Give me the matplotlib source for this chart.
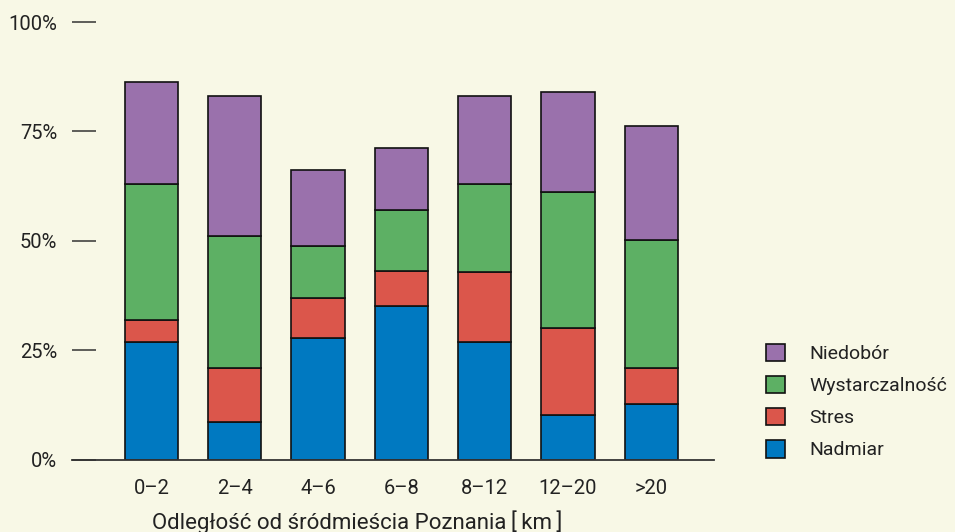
import numpy as np
import matplotlib.pyplot as plt
from matplotlib.patches import Patch

plt.rcParams['font.family'] = ['Roboto', 'DejaVu Sans']

categories = ["0–2", "2–4", "4–6", "6–8", "8–12", "12–20", ">20"]
nadmiar = [26.9, 8.7, 27.9, 35.2, 27.0, 10.1, 12.8]
stres = [5.0, 12.3, 9.1, 7.8, 15.9, 20.1, 8.2]
wystarczalnosc = [31.1, 30.2, 11.9, 14.0, 20.2, 31.0, 29.3]
niedobor = [23.4, 32.0, 17.4, 14.3, 20.1, 22.9, 26.0]

series = [("Nadmiar", nadmiar, "#0079C1"),
          ("Stres", stres, "#DB564B"),
          ("Wystarczalność", wystarczalnosc, "#5DB064"),
          ("Niedobór", niedobor, "#9A71AC")]

bg = "#F8F8E6"
W, H = 955, 532
fig = plt.figure(figsize=(W / 100, H / 100), dpi=100, facecolor=bg)
ax = fig.add_axes([72 / W, (H - 459.7) / H, 642 / W, 437.7 / H], facecolor=bg)

x = np.arange(len(categories))
bottom = np.zeros(len(categories))
handles = []
for name, vals, col in series:
    ax.bar(x, vals, width=0.64, bottom=bottom, color=col,
           edgecolor="#111111", linewidth=1.2, zorder=3)
    bottom += np.array(vals)
    handles.append(Patch(facecolor=col, edgecolor="#111111", linewidth=1.2, label=name))

ax.set_xlim((72 - 151.5) / 83.3, (714 - 151.5) / 83.3)
ax.set_ylim(0, 100)
ax.set_yticks([0, 25, 50, 75, 100])
ax.set_yticklabels(["0%", "25%", "50%", "75%", "100%"])
ax.set_xticks(x)
ax.set_xticklabels(categories)

for s in ["top", "right", "left"]:
    ax.spines[s].set_visible(False)
ax.spines["bottom"].set_color("#333333")
ax.spines["bottom"].set_linewidth(1.3)
ax.spines["bottom"].set_zorder(4)

ax.tick_params(axis="y", direction="in", length=17.3, width=1.1, color="#333333",
               pad=10.5, labelsize=14.5, labelcolor="#222222")
ax.tick_params(axis="x", length=0, pad=14, labelsize=14.5, labelcolor="#222222")

fig.text(357 / W, 1 - 522 / H, "Odległość od śródmieścia Poznania\u2009[\u2009km\u2009]",
         ha="center", va="center", fontsize=16, color="#222222")

fig.legend(handles=handles[::-1], loc="center left",
           bbox_to_anchor=(752 / W, 1 - 401.5 / H), frameon=False,
           fontsize=14, handlelength=1.0, handleheight=1.0,
           handletextpad=1.25, labelspacing=0.66, borderpad=0.2,
           labelcolor="#222222")

fig.savefig("out.png", dpi=100, facecolor=bg)
